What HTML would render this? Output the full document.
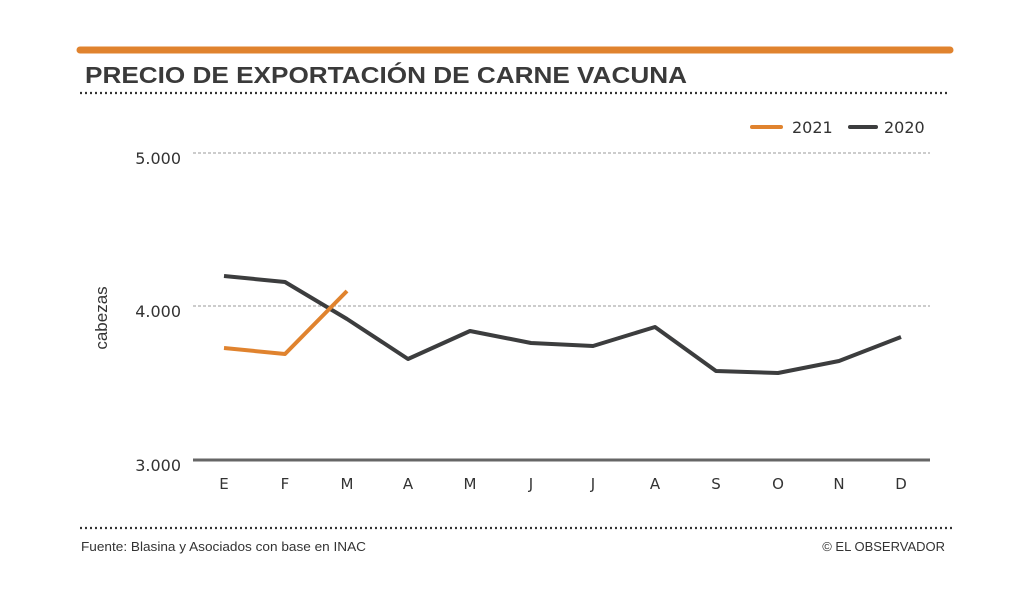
<!DOCTYPE html>
<html><head><meta charset="utf-8"><style>
html,body{margin:0;padding:0;background:#fff;}
svg{display:block;}
</style></head><body>
<svg width="1024" height="597" viewBox="0 0 1024 597" xmlns="http://www.w3.org/2000/svg">
<rect width="1024" height="597" fill="#fff"/>
<line x1="80" y1="50" x2="950" y2="50" stroke="#e0832e" stroke-width="7" stroke-linecap="round"/>
<text x="85" y="83" font-family="'Liberation Sans',sans-serif" font-weight="bold" font-size="23" fill="#3a3a3a" textLength="602" lengthAdjust="spacingAndGlyphs">PRECIO DE EXPORTACIÓN DE CARNE VACUNA</text>
<line x1="80" y1="93" x2="947" y2="93" stroke="#333" stroke-width="2.2" stroke-dasharray="2 3"/>
<line x1="80" y1="528" x2="952" y2="528" stroke="#333" stroke-width="2.2" stroke-dasharray="2 3"/>
<line x1="752" y1="127" x2="781" y2="127" stroke="#e0832e" stroke-width="4" stroke-linecap="round"/>
<text x="792" y="133" font-family="'DejaVu Sans',sans-serif" font-size="16" fill="#333">2021</text>
<line x1="850" y1="127" x2="876" y2="127" stroke="#3c3d3e" stroke-width="4" stroke-linecap="round"/>
<text x="884" y="133" font-family="'DejaVu Sans',sans-serif" font-size="16" fill="#333">2020</text>
<g stroke="#999" stroke-width="1" stroke-dasharray="3 2">
<line x1="193" y1="153" x2="930" y2="153"/>
<line x1="193" y1="306" x2="930" y2="306"/>
</g>
<line x1="193" y1="460" x2="930" y2="460" stroke="#666" stroke-width="3"/>
<g font-family="'DejaVu Sans',sans-serif" font-size="16" fill="#333" text-anchor="end">
<text x="181" y="164">5.000</text>
<text x="181" y="317">4.000</text>
<text x="181" y="471">3.000</text>
</g>
<text transform="translate(107,318) rotate(-90)" font-family="'Liberation Sans',sans-serif" font-size="17" fill="#333" text-anchor="middle">cabezas</text>
<g font-family="'DejaVu Sans',sans-serif" font-size="15" fill="#333" text-anchor="middle">
<text x="224" y="489">E</text><text x="285" y="489">F</text><text x="347" y="489">M</text><text x="408" y="489">A</text><text x="470" y="489">M</text><text x="531" y="489">J</text><text x="593" y="489">J</text><text x="655" y="489">A</text><text x="716" y="489">S</text><text x="778" y="489">O</text><text x="839" y="489">N</text><text x="901" y="489">D</text>
</g>
<polyline fill="none" stroke="#3c3d3e" stroke-width="4" stroke-linejoin="round" points="224,276 285,282 347,319 408,359 470,331 531,343 593,346 655,327 716,371 778,373 839,361 901,337"/>
<polyline fill="none" stroke="#e0832e" stroke-width="4" stroke-linejoin="round" points="224,348 285,354 347,291"/>
<text x="81" y="551" font-family="'Liberation Sans',sans-serif" font-size="13" fill="#333" textLength="285" lengthAdjust="spacingAndGlyphs">Fuente: Blasina y Asociados con base en INAC</text>
<text x="945" y="551" font-family="'Liberation Sans',sans-serif" font-size="13" fill="#333" text-anchor="end">© EL OBSERVADOR</text>
</svg>
</body></html>
